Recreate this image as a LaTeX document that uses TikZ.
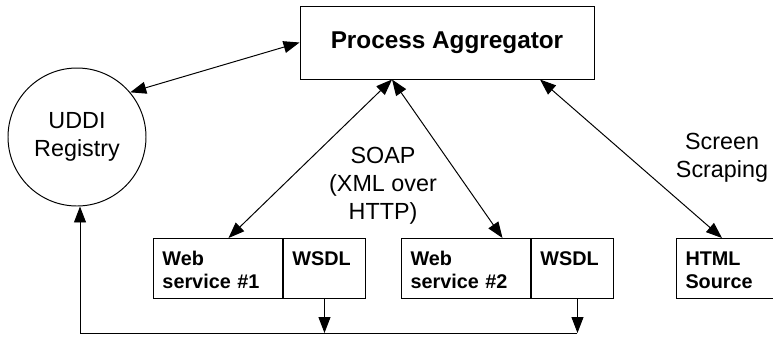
\documentclass[tikz,border=0pt]{standalone}
\usepackage{fontspec}
\setmainfont{Liberation Sans}
\usepackage{tikz}
\usetikzlibrary{arrows.meta}

\tikzset{
  svcbox/.style={draw, rectangle, anchor=north west, align=left,
    font=\bfseries\fontsize{14.1}{16.4}\selectfont,
    inner xsep=0.225cm, inner ysep=0.15cm,
    text height=0.525cm, text depth=0.675cm},
  link/.style={{Triangle[length=0.4cm,width=0.3cm]}-{Triangle[length=0.4cm,width=0.3cm]}},
  feed/.style={-{Triangle[length=0.4cm,width=0.3cm]}},
  plain/.style={font=\fontsize{16.6}{20}\selectfont, align=center}
}

\begin{document}
\begin{tikzpicture}[line width=0.7pt]
    \useasboundingbox (0,0) rectangle (19.325,8.475);
    % Top and registry
    \node[draw, minimum width=7.35cm, minimum height=1.825cm,
          font=\bfseries\fontsize{17.3}{20}\selectfont] (pa) at (11.175,7.4125) {Process Aggregator};
    \node[draw, circle, minimum size=3.45cm, inner sep=0pt, plain] (uddi) at (1.925,5.05) {UDDI\\Registry};
    % Labels
    \node[plain] (soap) at (9.575,3.825) {SOAP\\(XML over\\HTTP)};
    \node[plain] (scrape) at (18.05,4.54) {Screen\\Scraping};
    % Services
    \node[svcbox, text width=2.775cm] (ws1) at (3.825,2.525) {Web\\service \#1};
    \node[svcbox, text width=1.6cm] (wsdl1) at (ws1.north east) {WSDL};
    \node[svcbox, text width=2.775cm] (ws2) at (10.025,2.525) {Web\\service \#2};
    \node[svcbox, text width=1.6cm] (wsdl2) at (ws2.north east) {WSDL};
    \node[svcbox, text width=2.1cm] (html) at (16.9,2.525) {HTML\\Source};
    \coordinate (bus) at (2.0,0.15);
    \coordinate (tap) at ([xshift=0.125cm]wsdl2.south);
    % Connections
    \draw[link] (uddi.40) -- (pa.west);
    \draw[link] ([xshift=-1.375cm]pa.south) -- ([xshift=0.2625cm]ws1.north);
    \draw[link] ([xshift=-1.375cm]pa.south) -- ([xshift=0.9125cm]ws2.north);
    \draw[link] ([xshift=2.325cm]pa.south) -- ([xshift=1.15cm]html.north west);
    \draw[feed] (wsdl1.south) -- (wsdl1.south |- bus);
    \draw[feed] (tap) -- (tap |- bus);
    \draw[feed] (tap |- bus) -- (bus) -- (bus |- uddi.south);
\end{tikzpicture}
\end{document}
